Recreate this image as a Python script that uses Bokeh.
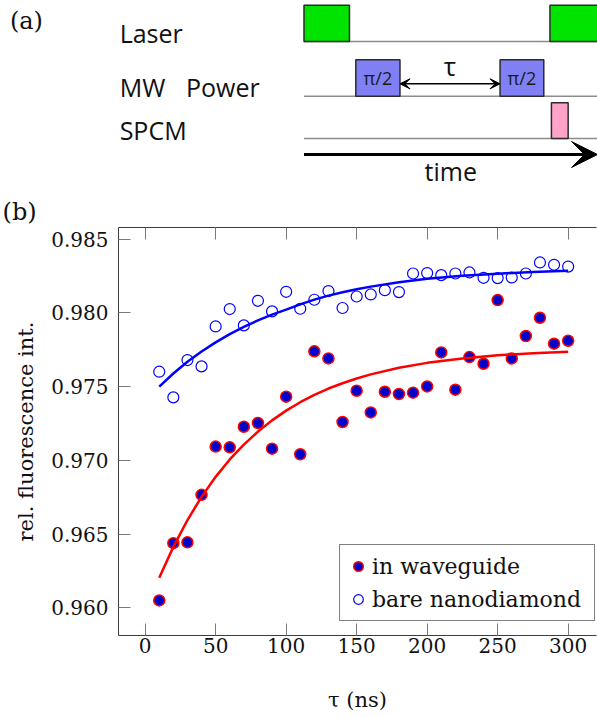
from bokeh.plotting import figure
from bokeh.layouts import column
from bokeh.models import (Range1d, LinearAxis, FixedTicker, PrintfTickFormatter,
                          CustomJSTickFormatter, Legend, LegendItem, Arrow, VeeHead)
from bokeh.core.properties import value
from bokeh.embed import file_html
from bokeh.resources import INLINE

# ---------------- data (panel b) ----------------
tau_ns = [10, 20, 30, 40, 50, 60, 70, 80, 90, 100, 110, 120, 130, 140, 150,
          160, 170, 180, 190, 200, 210, 220, 230, 240, 250, 260, 270, 280, 290, 300]
in_waveguide = [0.96050, 0.96438, 0.96444, 0.96766, 0.97093, 0.97088, 0.97228, 0.97253,
                0.97079, 0.97432, 0.97041, 0.97739, 0.97691, 0.97260, 0.97472, 0.97325,
                0.97465, 0.97450, 0.97459, 0.97501, 0.97732, 0.97479, 0.97700, 0.97655,
                0.98087, 0.97691, 0.97843, 0.97967, 0.97791, 0.97811]
bare_nanodiamond = [0.97601, 0.97427, 0.97680, 0.97637, 0.97908, 0.98026, 0.97915, 0.98082,
                    0.98010, 0.98143, 0.98028, 0.98089, 0.98148, 0.98033, 0.98111, 0.98125,
                    0.98154, 0.98141, 0.98267, 0.98270, 0.98256, 0.98267, 0.98274, 0.98238,
                    0.98236, 0.98240, 0.98267, 0.98342, 0.98326, 0.98314]
fit_tau = [10, 20, 30, 40, 50, 60, 70, 80, 90, 100, 110, 120, 130, 140, 150, 160, 180, 200,
           225, 250, 275, 300]
fit_bare = [0.97500, 0.97589, 0.97668, 0.97738, 0.97800, 0.97856, 0.97905, 0.97949, 0.97988,
            0.98022, 0.98058, 0.98090, 0.98117, 0.98140, 0.98160, 0.98178, 0.98208, 0.98232,
            0.98252, 0.98266, 0.98277, 0.98285]
fit_waveguide = [0.96203, 0.96413, 0.96595, 0.96752, 0.96888, 0.97006, 0.97107, 0.97195, 0.97271,
                 0.97337, 0.97394, 0.97444, 0.97487, 0.97523, 0.97555, 0.97583, 0.97628, 0.97661,
                 0.97691, 0.97712, 0.97727, 0.97737]
x_ticks = [0, 50, 100, 150, 200, 250, 300]
y_ticks = [0.960, 0.965, 0.970, 0.975, 0.980, 0.985]
series_labels = ["in waveguide", "bare nanodiamond"]

# ---------------- data (panel a: pulse sequence, time units 0..100) ----------------
laser_start = [0.0, 83.8]
laser_end = [15.5, 101.0]
mw_start = [17.65, 66.8]
mw_end = [32.7, 81.7]
spcm_start = [84.3]
spcm_end = [90.0]
row_names = ["Laser", "MW", "SPCM"]

W = 597
H_TOP = 226
H_BOT = 491

# ================= panel (a) =================
top = figure(width=W, height=H_TOP, x_range=Range1d(-103.4, 100.0), y_range=Range1d(H_TOP, 0),
             x_axis_location=None, y_axis_location=None, toolbar_location=None,
             output_backend="svg", min_border=0, outline_line_color=None, frame_align=False)
top.grid.visible = False

row_base = [41, 95.7, 138]
top.segment(x0=[0, 0, 0], y0=row_base, x1=[100, 100, 100], y1=row_base,
            line_color="#8c8c8c", line_width=1.5)
top.quad(left=laser_start, right=laser_end, bottom=[41, 41], top=[4.7, 4.7],
         fill_color="#00e400", line_color="#2b2b2b", line_width=1.5)
top.quad(left=mw_start, right=mw_end, bottom=[95.7, 95.7], top=[59.3, 59.3],
         fill_color="#8080f4", line_color="#2b2b2b", line_width=1.5)
top.quad(left=spcm_start, right=spcm_end, bottom=[138], top=[102.3],
         fill_color="#ffa3c8", line_color="#2b2b2b", line_width=1.5)

top.text(x=[(a + b) / 2 for a, b in zip(mw_start, mw_end)], y=[77.5, 77.5], text=["π/2", "π/2"],
         text_align="center", text_baseline="middle", text_font=value("Open Sans"),
         text_font_size="18px", text_color="#1a1a1a")

top.text(x=[-62.8, -62.8, -40.2, -62.8], y=[32, 86, 86, 129],
         text=[row_names[0], row_names[1], "Power", row_names[2]],
         text_align="left", text_baseline="middle", text_font=value("Open Sans"),
         text_font_size="25px", text_color="#111111")

top.add_layout(Arrow(x_start=mw_end[0], y_start=83.3, x_end=mw_start[1], y_end=83.3,
                     line_width=1.5, line_color="black",
                     start=VeeHead(size=10, fill_color="black", line_color="black"),
                     end=VeeHead(size=10, fill_color="black", line_color="black")))
top.text(x=[(mw_end[0] + mw_start[1]) / 2], y=[65], text=["τ"], text_align="center",
         text_baseline="middle", text_font=value("Open Sans"), text_font_size="26px",
         text_color="#111111")

top.add_layout(Arrow(x_start=0, y_start=154, x_end=100, y_end=154, line_width=3,
                     line_color="black",
                     end=VeeHead(size=26, fill_color="black", line_color="black")))
top.text(x=[50], y=[170], text=["time"], text_align="center", text_baseline="middle",
         text_font=value("Open Sans"), text_font_size="25px", text_color="#111111")
top.text(x=[-100.2, -102.7], y=[20, 225], text=["(a)", "(b)"], text_align="left",
         text_baseline=["middle", "bottom"], text_font=value("DejaVu Serif"),
         text_font_size="24px", text_color="#111111")

# ================= panel (b) =================
p = figure(width=W, height=H_BOT, x_range=Range1d(-18.9, 320.1), y_range=Range1d(0.95812, 0.98579),
           output_backend="svg", toolbar_location=None, frame_align=False,
           min_border_left=118, min_border_right=1, min_border_top=1, min_border_bottom=82)
p.grid.visible = False
p.outline_line_color = None

AXIS_COL = "#3c3c3c"
TICK_COL = "#7a7a7a"
for ax in (p.xaxis[0], p.yaxis[0]):
    ax.major_tick_in = 12
    ax.major_tick_out = 0
    ax.minor_tick_in = 0
    ax.minor_tick_out = 0
    ax.major_tick_line_color = TICK_COL
    ax.axis_line_color = AXIS_COL
    ax.major_label_text_font = "DejaVu Serif"
    ax.major_label_text_font_size = "20px"
    ax.major_label_text_color = "#111111"
    ax.axis_label_text_font = "DejaVu Serif"
    ax.axis_label_text_font_size = "21px"
    ax.axis_label_text_font_style = "normal"
    ax.axis_label_text_color = "#111111"

p.xaxis.ticker = FixedTicker(ticks=x_ticks)
p.yaxis.ticker = FixedTicker(ticks=y_ticks)
p.yaxis.formatter = PrintfTickFormatter(format="%.3f")
p.xaxis.major_label_standoff = 2
p.yaxis.major_label_standoff = 10
p.xaxis.axis_label = "τ (ns)"
p.xaxis.axis_label_standoff = 32
p.yaxis.axis_label = "rel. fluorescence int."
p.yaxis.axis_label_standoff = 10

top_axis = LinearAxis(ticker=FixedTicker(ticks=x_ticks),
                      formatter=CustomJSTickFormatter(code="return ''"),
                      major_label_text_font_size="0px",
                      major_label_standoff=0, major_tick_in=12, major_tick_out=0,
                      minor_tick_in=0, minor_tick_out=0,
                      axis_line_color=AXIS_COL, major_tick_line_color=TICK_COL)
p.add_layout(top_axis, "above")

r_wg = p.scatter(tau_ns, in_waveguide, size=11, fill_color="#0000cc",
                 line_color="#ff0000", line_width=1.5)
r_bare = p.scatter(tau_ns, bare_nanodiamond, size=11, fill_color=None,
                   line_color="#0000ff", line_width=1.2)
p.line(fit_tau, fit_bare, line_color="#0000ff", line_width=2.5)
p.line(fit_tau, fit_waveguide, line_color="#ff0000", line_width=2.5)

legend = Legend(items=[LegendItem(label=series_labels[0], renderers=[r_wg]),
                       LegendItem(label=series_labels[1], renderers=[r_bare])],
                location=(221, 14), border_line_color="black", border_line_width=1.2,
                background_fill_color="white", background_fill_alpha=1.0,
                padding=6, spacing=3, glyph_width=24, glyph_height=30,
                label_standoff=2, label_width=216, margin=0,
                label_text_font="DejaVu Serif", label_text_font_size="22px",
                label_text_color="#111111")
p.add_layout(legend)

layout = column(top, p, spacing=0)
open("out.html", "w").write(file_html(layout, INLINE))
